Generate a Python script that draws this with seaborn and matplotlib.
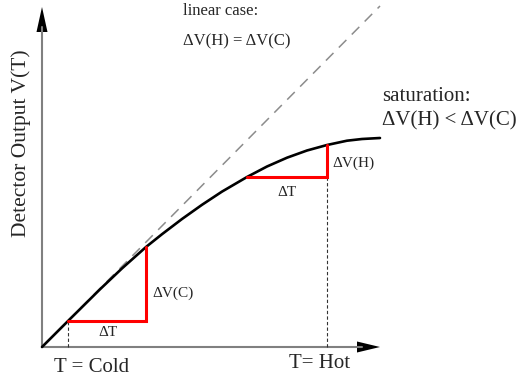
import numpy as np
import pandas as pd
import matplotlib.pyplot as plt
import seaborn as sns

# Detector-Kennlinie (Einheiten ~ Pixel ab Ursprung)
t_kurve = [0, 26, 58, 80, 104, 120, 140, 160, 180, 205, 225, 245, 265, 285, 305, 320, 338]
v_kurve = [0, 26, 57.7, 78.6, 100, 112.8, 128, 142.2, 155.4, 170, 180.5, 189.3, 196.5,
           202, 206.3, 208, 209]

# linearer Fall (gestrichelt)
t_linear = [0, 338]
v_linear = [0, 341]

# Temperaturschritte
t_kalt, t_kalt2 = 26, 104
v_kalt, v_kalt2 = 26, 100
t_heiss, t_heiss2 = 205, 285
v_heiss, v_heiss2 = 170, 202

df_kurve = pd.DataFrame({'T': t_kurve, 'V': v_kurve})
df_linear = pd.DataFrame({'T': t_linear, 'V': v_linear})

sns.set_theme(style='white')
plt.rcParams['font.family'] = ['Liberation Serif', 'DejaVu Serif']

fig = plt.figure(figsize=(5.2, 3.79), dpi=100)
ax = fig.add_axes([0, 0, 1, 1])
ax.set_xlim(-42, 478)
ax.set_ylim(-32, 347)
ax.axis('off')

# Achsen mit Pfeilen
ax.plot([0, 320], [0, 0], color='#808080', lw=1.5)
ax.plot([0, 0], [0, 320], color='#808080', lw=1.5)
ax.arrow(0, 0, 338, 0, width=0, head_width=11, head_length=23,
         length_includes_head=True, fc='black', ec='black', lw=0)
ax.arrow(0, 0, 0, 340, width=0, head_width=11, head_length=25,
         length_includes_head=True, fc='black', ec='black', lw=0)

# linearer Fall und Kennlinie
sns.lineplot(data=df_linear, x='T', y='V', ax=ax, color='#8c8c8c', lw=1.1,
             linestyle=(0, (7, 5)))
sns.lineplot(data=df_kurve, x='T', y='V', ax=ax, color='black', lw=1.9,
             solid_joinstyle='round')

# Hilfslinien
ax.plot([t_kalt, t_kalt], [0, v_kalt], color='#333333', lw=0.8, linestyle=(0, (3, 2)))
ax.plot([t_heiss2, t_heiss2], [0, v_heiss], color='#333333', lw=0.8, linestyle=(0, (3, 2)))

# Schritte in Rot
ax.plot([t_kalt, t_kalt2, t_kalt2], [v_kalt, v_kalt, v_kalt2], color='red', lw=2.2,
        solid_joinstyle='miter')
ax.plot([t_heiss, t_heiss2, t_heiss2], [v_heiss, v_heiss, v_heiss2], color='red', lw=2.2,
        solid_joinstyle='miter')

# Beschriftungen
ax.text(66, 15, 'ΔT', fontsize=11, ha='center', va='center')
ax.text(110, 54, 'ΔV(C)', fontsize=11, ha='left', va='center')
ax.text(245, 154, 'ΔT', fontsize=11, ha='center', va='center')
ax.text(290, 184, 'ΔV(H)', fontsize=11, ha='left', va='center')

ax.text(141, 332, 'linear case:', fontsize=12, ha='left', va='baseline')
ax.text(141, 302, 'ΔV(H) = ΔV(C)', fontsize=12, ha='left', va='baseline')
ax.text(340, 246, 'saturation:', fontsize=15, ha='left', va='baseline')
ax.text(340, 222, 'ΔV(H) < ΔV(C)', fontsize=15, ha='left', va='baseline')

ax.text(50, -20, 'T = Cold', fontsize=15, ha='center', va='center')
ax.text(278, -17, 'T= Hot', fontsize=15, ha='center', va='center')
ax.text(-21, 204, 'Detector Output V(T)', fontsize=15.5, rotation=90,
        ha='center', va='center')

fig.savefig('out.png', dpi=100)
